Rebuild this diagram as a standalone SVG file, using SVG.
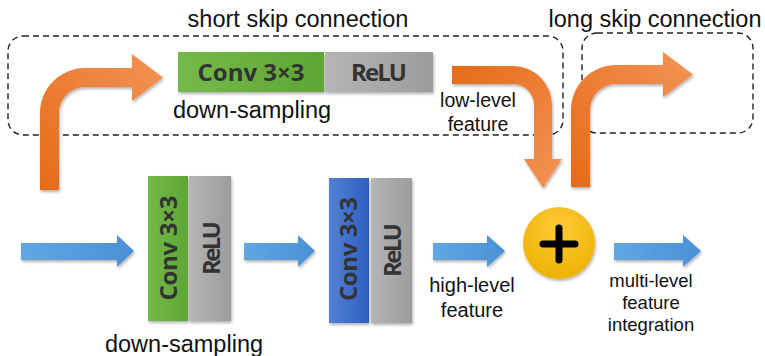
<svg xmlns="http://www.w3.org/2000/svg" width="765" height="356" viewBox="0 0 765 356">
<defs>
<style>
.lbl{font-family:"Liberation Sans",Arial,sans-serif;fill:#111;}
.box{font-family:"Open Sans","DejaVu Sans",sans-serif;font-weight:bold;fill:#333;font-size:24px;text-anchor:middle;}
.dash{fill:none;stroke:#222;stroke-width:1.4;stroke-dasharray:6,4;}
</style>
<linearGradient id="gGreen" x1="0" y1="0" x2="1" y2="0"><stop offset="0" stop-color="#74BA4A"/><stop offset="1" stop-color="#5DA535"/></linearGradient>
<linearGradient id="gGray" x1="0" y1="0" x2="1" y2="0"><stop offset="0" stop-color="#B5B5B5"/><stop offset="1" stop-color="#9C9C9C"/></linearGradient>
<linearGradient id="gBlue" x1="0" y1="0" x2="1" y2="0"><stop offset="0" stop-color="#5282D6"/><stop offset="1" stop-color="#2E5EBF"/></linearGradient>
<linearGradient id="gArrow" x1="0" y1="0" x2="1" y2="0"><stop offset="0" stop-color="#62A6E2"/><stop offset="1" stop-color="#4A90D6"/></linearGradient>
<linearGradient id="gOr1" x1="0" y1="1" x2="1" y2="0"><stop offset="0" stop-color="#E66A17"/><stop offset="1" stop-color="#F39456"/></linearGradient>
<linearGradient id="gOr2" x1="0" y1="0" x2="1" y2="1"><stop offset="0" stop-color="#E66A17"/><stop offset="1" stop-color="#F39456"/></linearGradient>
<radialGradient id="gYel" cx="0.5" cy="0.3" r="0.7"><stop offset="0" stop-color="#FFCB3A"/><stop offset="1" stop-color="#ECB200"/></radialGradient>
<filter id="sh" x="-20%" y="-20%" width="140%" height="140%"><feDropShadow dx="1" dy="2" stdDeviation="1.5" flood-color="#000" flood-opacity="0.3"/></filter>
</defs>
<rect width="765" height="356" fill="#fff"/>

<g id="short-skip-box">
<rect class="dash" x="8" y="36" width="555" height="99" rx="15"/>
<text class="lbl" x="298" y="27" font-size="23.5" text-anchor="middle">short skip connection</text>
</g>
<g id="long-skip-box">
<rect class="dash" x="582" y="33" width="171" height="100" rx="15"/>
<text class="lbl" x="655" y="27" font-size="23.5" text-anchor="middle">long skip connection</text>
</g>

<g id="connectors">
<path d="M40,190 V113 A45,45 0 0 1 85,68 H132 V54 L163,77.5 L132,101 V87 H85 A26,26 0 0 0 59,113 V190 Z" fill="url(#gOr1)" filter="url(#sh)"/>
<path d="M452,66 H513 A39,39 0 0 1 552,105 V159 H562 L543,188 L524,159 H534 V105 A21,21 0 0 0 513,84 H452 Z" fill="url(#gOr2)" filter="url(#sh)"/>
<path d="M571,187 V110 A45,45 0 0 1 616,65 H663 V52 L693,74.5 L663,97 V84 H616 A26,26 0 0 0 590,110 V187 Z" fill="url(#gOr1)" filter="url(#sh)"/>
<path d="M21,243 H117 V235 L134,251 L117,267 V260 H21 Z" fill="url(#gArrow)" filter="url(#sh)"/>
<path d="M244,243 H298 V235 L315,251 L298,267 V260 H244 Z" fill="url(#gArrow)" filter="url(#sh)"/>
<path d="M433,243 H487 V235 L505,251 L487,267 V260 H433 Z" fill="url(#gArrow)" filter="url(#sh)"/>
<path d="M614,243 H683 V235 L701,251 L683,267 V260 H614 Z" fill="url(#gArrow)" filter="url(#sh)"/>
<text class="lbl" x="478" y="107" font-size="19.5" text-anchor="middle">low-level</text>
<text class="lbl" x="478" y="131" font-size="19.5" text-anchor="middle">feature</text>
<text class="lbl" x="472" y="292" font-size="20" text-anchor="middle">high-level</text>
<text class="lbl" x="472" y="317" font-size="20" text-anchor="middle">feature</text>
<text class="lbl" x="651" y="287" font-size="18.5" text-anchor="middle">multi-level</text>
<text class="lbl" x="651" y="309" font-size="18.5" text-anchor="middle">feature</text>
<text class="lbl" x="651" y="331" font-size="18.5" text-anchor="middle">integration</text>
</g>

<g id="top-block">
<rect x="178" y="52" width="146" height="40" fill="url(#gGreen)" filter="url(#sh)"/>
<rect x="325" y="52" width="108" height="40" fill="url(#gGray)" filter="url(#sh)"/>
<text class="box" x="251" y="81" textLength="107">Conv 3×3</text>
<text class="box" x="379" y="81" textLength="56">ReLU</text>
<text class="lbl" x="252" y="118" font-size="23.5" text-anchor="middle">down-sampling</text>
</g>

<g id="block1">
<rect x="148" y="176" width="40" height="145" fill="url(#gGreen)" filter="url(#sh)"/>
<rect x="189" y="176" width="42" height="145" fill="url(#gGray)" filter="url(#sh)"/>
<text class="box" transform="translate(177,248) rotate(-90)" textLength="105">Conv 3×3</text>
<text class="box" transform="translate(220,248) rotate(-90)" textLength="54">ReLU</text>
<text class="lbl" x="184" y="352" font-size="23.5" text-anchor="middle">down-sampling</text>
</g>

<g id="block2">
<rect x="329" y="178" width="40" height="145" fill="url(#gBlue)" filter="url(#sh)"/>
<rect x="371" y="178" width="41" height="145" fill="url(#gGray)" filter="url(#sh)"/>
<text class="box" transform="translate(357,249) rotate(-90)" textLength="104">Conv 3×3</text>
<text class="box" transform="translate(401,250) rotate(-90)" textLength="54">ReLU</text>
</g>

<g id="sum">
<circle cx="559" cy="243" r="36" fill="url(#gYel)" filter="url(#sh)"/>
<path d="M543,244 H575 M559,228 V260" stroke="#000" stroke-width="7" stroke-linecap="round"/>
</g>
</svg>
